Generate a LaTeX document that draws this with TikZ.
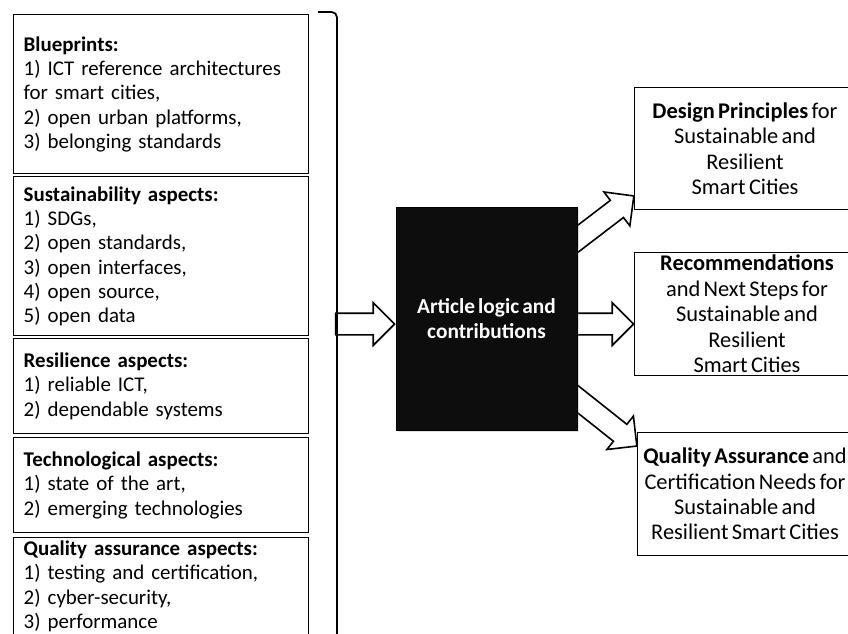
\documentclass[tikz,border=0pt]{standalone}
\usepackage{fontspec}
\setmainfont{Carlito}[WordSpace=0.65]
\usetikzlibrary{shapes.arrows,calc,backgrounds,shadows}

\begin{document}
\begin{tikzpicture}[x=0.75pt,y=0.75pt,
  leftbox/.style={draw=black, line width=1.1pt, anchor=north west, minimum width=221.25pt,
    text width=206.25pt, inner xsep=7.5pt, inner ysep=0pt, align=left,
    font=\fontsize{15.7}{18.2}\selectfont},
  rightbox/.style={align=center, inner sep=0pt, font=\fontsize{16.8}{19.1}\selectfont},
  boxline/.style={draw=black, line width=1.1pt},
  centerbox/.style={draw=black, fill=black!95, text=white, align=center,
    drop shadow={shadow xshift=1.2pt, shadow yshift=-1.2pt, opacity=0.25},
    font=\bfseries\fontsize{16}{18.75}\selectfont},
  blockarrow/.style={single arrow, draw=black, fill=white, line width=1.2pt, inner sep=7.5pt,
    single arrow head extend=7.9pt, single arrow tip angle=90, anchor=tip, sloped, pos=1}]
\useasboundingbox (0,0) rectangle (848,-633);
\node[leftbox, minimum height=119.25pt] (blue) at (13,-14) {\textbf{Blueprints:}\\1) ICT reference architectures\\for smart cities,\\2) open urban platforms,\\3) belonging standards};
\node[leftbox, minimum height=119.25pt] (sust) at (13,-176) {\textbf{Sustainability aspects:}\\1) SDGs,\\2) open standards,\\3) open interfaces,\\4) open source,\\5) open data};
\node[leftbox, minimum height=71.25pt] (resil) at (13,-338) {\textbf{Resilience aspects:}\\1) reliable ICT,\\2) dependable systems};
\node[leftbox, minimum height=71.25pt] (tech) at (13,-437) {\textbf{Technological aspects:}\\1) state of the art,\\2) emerging technologies};
\node[leftbox, minimum height=72.75pt] (qual) at (13,-537) {\textbf{Quality assurance aspects:}\\1) testing and certification,\\2) cyber-security,\\3) performance};
\draw[line width=1.3pt, rounded corners=4pt] (318,-12) -- (337,-12) -- (337,-645);
\coordinate (brk) at (337,-324);
\node[centerbox, minimum width=135.75pt, minimum height=167.25pt] (art) at (486.5,-318.5) {Article logic and\\contributions};
\node[rightbox, minimum width=165pt, minimum height=90.75pt] (dp) at (745,-148.5) {\textbf{Design Principles} for\\Sustainable and\\Resilient\\Smart Cities};
\node[rightbox, minimum width=168pt, minimum height=91.5pt] (rec) at (747,-314) {\textbf{Recommendations}\\and Next Steps for\\Sustainable and\\Resilient\\Smart Cities};
\node[rightbox, minimum width=160.5pt, minimum height=91.5pt] (qac) at (745,-494) {\textbf{Quality Assurance} and\\Certification Needs for\\Sustainable and\\Resilient Smart Cities};
\draw[boxline] ($(dp.north east)+(40,0)$) -- (dp.north west) -- (dp.south west) -- ($(dp.south east)+(40,0)$);
\draw[boxline] ($(rec.north east)+(40,0)$) -- (rec.north west) -- (rec.south west) -- ($(rec.south east)+(40,0)$);
\draw[boxline] ($(qac.north east)+(40,0)$) -- (qac.north west) -- (qac.south west) -- ($(qac.south east)+(40,0)$);
\begin{scope}[on background layer]
\path (brk) -- ($(art.west)+(0,-5.5)$) node[blockarrow, minimum height=44.25pt] (inarr) {};
\path ($(art.north east)+(0,-32.5)$) -- ($(dp.south west)+(0,14)$) node[blockarrow, minimum height=70pt] (dparr) {};
\path ($(art.east)+(0,-5.5)$) -- ($(rec.west)+(0,-10)$) node[blockarrow, minimum height=43.5pt] (recarr) {};
\path ($(art.south east)+(0,31.5)$) -- ($(qac.north west)+(0,-14)$) node[blockarrow, minimum height=73.5pt] (qaarr) {};
\end{scope}
\end{tikzpicture}
\end{document}
